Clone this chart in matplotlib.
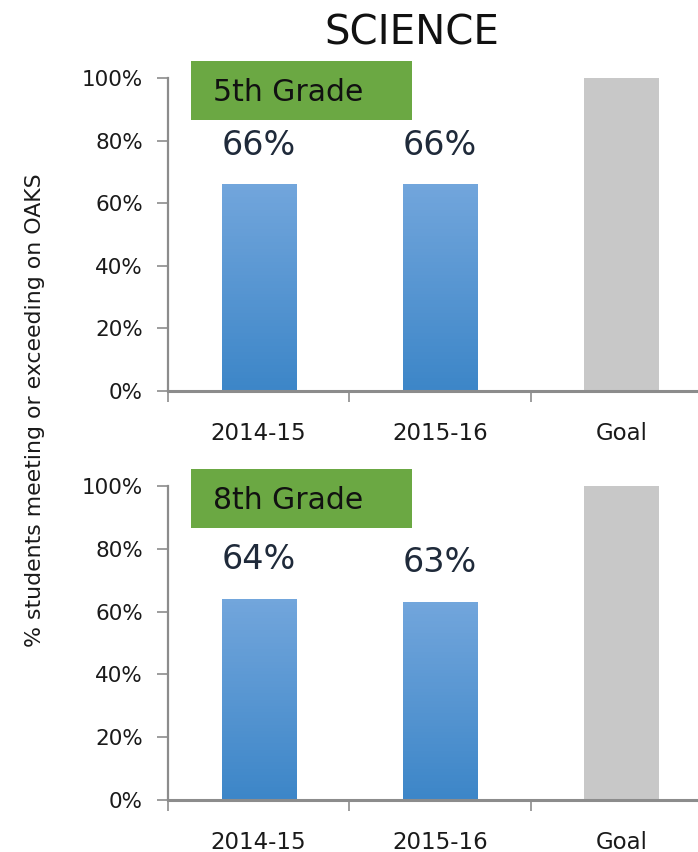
import numpy as np
import matplotlib
matplotlib.use('Agg')
import matplotlib.pyplot as plt
from matplotlib.patches import Rectangle

# chart values
categories = ['2014-15', '2015-16', 'Goal']
grade5 = [0.66, 0.66, 1.00]
grade8 = [0.64, 0.63, 1.00]
panel_names = ['5th Grade', '8th Grade']
yticks = [0, 0.2, 0.4, 0.6, 0.8, 1.0]
ytick_labels = ['0%', '20%', '40%', '60%', '80%', '100%']

plt.rcParams['font.family'] = ['DejaVu Sans']

BLUE_TOP = np.array([0x72, 0xa6, 0xdc]) / 255
BLUE_BOT = np.array([0x3d, 0x86, 0xc8]) / 255
GRAY = '#c8c8c8'
SPINE = '#8c8c8c'
GREEN = '#6ba843'


def GradientBar(ax, bar):
    x0, y0 = bar.get_x(), bar.get_y()
    w, h = bar.get_width(), bar.get_height()
    n = 64
    t = np.linspace(0, 1, n)[:, None]
    img = BLUE_BOT[None, :] * (1 - t) + BLUE_TOP[None, :] * t
    img = img[:, None, :]
    im = ax.imshow(img, extent=[x0, x0 + w, y0, y0 + h], origin='lower',
                   aspect='auto', zorder=2)
    im.set_clip_path(bar)
    bar.set_facecolor('none')


def PlotPanel(ax, values, name):
    x = np.arange(len(categories))
    colors = ['#5592d0', '#5592d0', GRAY]
    bars = ax.bar(x, values, width=0.41, color=colors, zorder=2)
    for i, b in enumerate(bars):
        if categories[i] != 'Goal':
            GradientBar(ax, b)
            ax.text(x[i], values[i] + 0.125, '%d%%' % round(values[i] * 100),
                    ha='center', va='center', fontsize=24, color='#1f2a3a')
    ax.set_xlim(-0.5, len(categories) - 0.5)
    ax.set_ylim(0, 1)
    ax.set_yticks(yticks)
    ax.set_yticklabels(ytick_labels, fontsize=15.5, color='#1a1a1a')
    ax.set_xticks(x)
    ax.set_xticklabels(categories, fontsize=16.5, color='#1a1a1a')
    ax.set_xticks(np.arange(len(categories) + 1) - 0.5, minor=True)
    ax.tick_params(axis='x', which='major', length=0, pad=22)
    ax.tick_params(axis='x', which='minor', length=8, width=1.2,
                   color=SPINE, direction='out')
    ax.tick_params(axis='y', length=8, width=1.2, color=SPINE, pad=10)
    for s in ['top', 'right']:
        ax.spines[s].set_visible(False)
    ax.spines['left'].set_color(SPINE)
    ax.spines['left'].set_linewidth(1.6)
    ax.spines['bottom'].set_color(SPINE)
    ax.spines['bottom'].set_linewidth(2.2)
    ax.spines['bottom'].set_zorder(3)
    box = Rectangle((-0.373, 0.865), 1.221, 0.19, facecolor=GREEN,
                    edgecolor='none', clip_on=False, zorder=4)
    ax.add_patch(box)
    ax.text(-0.25, 0.955, name, fontsize=21.5, color='#111111',
            ha='left', va='center', zorder=5)


fig = plt.figure(figsize=(6.98, 8.52), dpi=100)
ax1 = fig.add_axes([0.2407, 0.5411, 0.7794, 0.3674])
ax2 = fig.add_axes([0.2407, 0.0610, 0.7794, 0.3685])
PlotPanel(ax1, grade5, panel_names[0])
PlotPanel(ax2, grade8, panel_names[1])

fig.text(0.59, 0.961, 'SCIENCE', fontsize=29, ha='center', va='center',
         color='#111111')
fig.text(0.05, 0.519, '% students meeting or exceeding on OAKS',
         rotation=90, fontsize=15.8, ha='center', va='center',
         color='#1a1a1a')

fig.savefig('out.png', dpi=100)
